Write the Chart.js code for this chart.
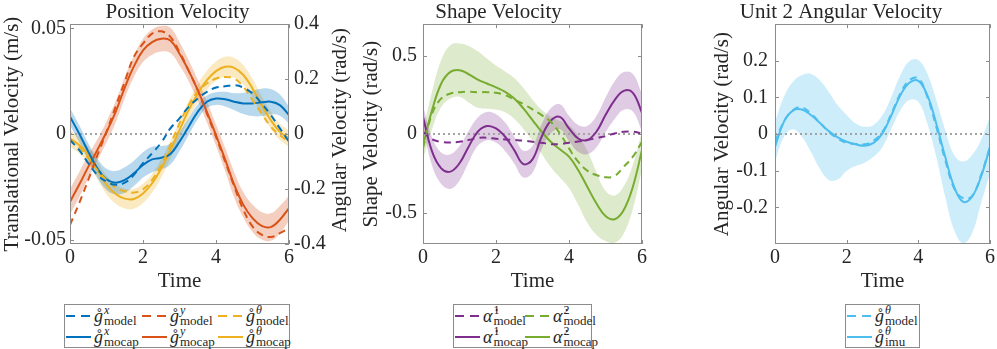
<!DOCTYPE html>
<html>
<head>
<meta charset="utf-8">
<script src="https://cdn.jsdelivr.net/npm/chart.js@4.4.1/dist/chart.umd.min.js"></script>
<style>
  body { margin: 0; background: #fff; width: 997px; height: 349px; position: relative; overflow: hidden;
         font-family: "Liberation Serif", "DejaVu Serif", serif; color: #262626; }
  canvas { position: absolute; top: 0; }
  .legend { position: absolute; top: 304px; height: 44px; box-sizing: border-box; border: 1px solid #8c8c8c;
            background: #fff; display: grid; align-content: center; }
  .item { display: flex; align-items: center; height: 21px; white-space: nowrap; }
  .sample { width: 25px; height: 2px; margin: 0 3px 0 1px; flex: none; }
  .base { font-style: italic; font-size: 18px; line-height: 1; }
  .scr { display: inline-flex; flex-direction: column; line-height: 0.85; margin-left: 1px; }
  .sup { font-style: italic; font-size: 12px; }
  .sup.num { font-style: normal; }
  .sub { font-size: 13px; }
</style>
</head>
<body>
<canvas id="posChart" width="355" height="296" style="left:0px"></canvas>
<canvas id="shapeChart" width="300" height="296" style="left:355px"></canvas>
<canvas id="unitChart" width="307" height="296" style="left:690px"></canvas>
<div id="posLegend" class="legend" style="left:64px;width:226px;grid-template-columns:76px 76px 72px"></div>
<div id="shapeLegend" class="legend" style="left:453px;width:139px;grid-template-columns:70px 67px"></div>
<div id="unitLegend" class="legend" style="left:845px;width:75px;grid-template-columns:73px"></div>
<script>
// time samples shared by every series
const TIME = [0, 0.25, 0.5, 0.75, 1, 1.25, 1.5, 1.75, 2, 2.25, 2.5, 2.75, 3, 3.25, 3.5, 3.75, 4, 4.25, 4.5, 4.75, 5, 5.25, 5.5, 5.75, 6];
const X_TICKS = [0, 2, 4, 6];

// Position velocity: x, y in m/s (left axis), theta in rad/s (right axis)
const POS_X_MODEL = [-0.0028, -0.0075, -0.0138, -0.0193, -0.0225, -0.0240, -0.0230, -0.0193, -0.0138, -0.0091, -0.0040, 0.0027, 0.0074, 0.0129, 0.0168, 0.0200, 0.0220, 0.0226, 0.0231, 0.0220, 0.0192, 0.0145, 0.0090, 0.0027, -0.0036];
const POS_X_MOCAP = [0.0082, 0.0003, -0.0083, -0.0162, -0.0214, -0.0230, -0.0217, -0.0186, -0.0146, -0.0120, -0.0112, -0.0094, -0.0036, 0.0035, 0.0105, 0.0153, 0.0168, 0.0165, 0.0153, 0.0145, 0.0145, 0.0150, 0.0153, 0.0137, 0.0090];
const POS_X_SPREAD = [0.004, 0.004, 0.004, 0.0045, 0.005, 0.0055, 0.006, 0.006, 0.006, 0.006, 0.0055, 0.005, 0.0045, 0.004, 0.0035, 0.003, 0.003, 0.0035, 0.004, 0.005, 0.006, 0.0065, 0.006, 0.005, 0.004];

const POS_Y_MODEL = [-0.043, -0.0327, -0.0217, -0.010, 0.001, 0.013, 0.0247, 0.0365, 0.0428, 0.0475, 0.0486, 0.046, 0.0388, 0.030, 0.0208, 0.0097, -0.0013, -0.013, -0.0248, -0.0358, -0.0437, -0.0476, -0.0487, -0.0469, -0.0445];
const POS_Y_MOCAP = [-0.032, -0.024, -0.0155, -0.0075, 0.001, 0.0105, 0.022, 0.032, 0.0396, 0.0435, 0.0451, 0.0443, 0.038, 0.030, 0.0208, 0.0105, -0.0005, -0.012, -0.024, -0.0335, -0.0398, -0.0434, -0.044, -0.0405, -0.035];
const POS_Y_SPREAD = [0.006, 0.006, 0.0055, 0.005, 0.005, 0.005, 0.005, 0.005, 0.0055, 0.006, 0.006, 0.006, 0.0055, 0.005, 0.005, 0.005, 0.005, 0.0055, 0.006, 0.006, 0.0065, 0.0065, 0.0065, 0.0065, 0.006];

const POS_TH_MODEL = [-0.016, -0.046, -0.088, -0.131, -0.167, -0.194, -0.208, -0.213, -0.201, -0.167, -0.113, -0.040, 0.039, 0.105, 0.154, 0.184, 0.202, 0.208, 0.202, 0.172, 0.124, 0.075, 0.027, -0.004, -0.028];
const POS_TH_MOCAP = [-0.016, -0.040, -0.076, -0.131, -0.185, -0.218, -0.235, -0.236, -0.216, -0.179, -0.125, -0.058, 0.015, 0.087, 0.148, 0.196, 0.229, 0.245, 0.241, 0.215, 0.166, 0.105, 0.051, 0.008, -0.016];
const POS_TH_SPREAD = [0.03, 0.03, 0.03, 0.032, 0.034, 0.035, 0.036, 0.036, 0.035, 0.034, 0.033, 0.032, 0.032, 0.032, 0.033, 0.034, 0.035, 0.036, 0.036, 0.035, 0.034, 0.033, 0.032, 0.03, 0.03];

const POS_LEFT_TICKS = [-0.05, 0, 0.05];
const POS_RIGHT_TICKS = [-0.4, -0.2, 0, 0.2, 0.4];

// Shape velocity (rad/s)
const SHAPE_A1_MODEL = [0.015, -0.034, -0.049, -0.053, -0.049, -0.038, -0.025, -0.023, -0.030, -0.034, -0.038, -0.042, -0.049, -0.055, -0.064, -0.064, -0.055, -0.047, -0.038, -0.025, -0.013, 0.004, 0.015, 0.015, 0.004];
const SHAPE_A1_MOCAP = [0.11, -0.112, -0.218, -0.239, -0.186, -0.08, 0.015, 0.051, 0.036, -0.017, -0.102, -0.191, -0.161, -0.017, 0.085, 0.11, 0.036, -0.028, -0.038, 0.015, 0.121, 0.216, 0.275, 0.263, 0.136];
const SHAPE_A1_SPREAD = [0.07, 0.09, 0.1, 0.11, 0.11, 0.1, 0.09, 0.09, 0.09, 0.09, 0.085, 0.085, 0.085, 0.08, 0.08, 0.08, 0.08, 0.085, 0.09, 0.1, 0.11, 0.12, 0.12, 0.12, 0.12];

const SHAPE_A2_MODEL = [-0.09, 0.131, 0.227, 0.258, 0.267, 0.269, 0.267, 0.267, 0.263, 0.248, 0.22, 0.191, 0.157, 0.121, 0.078, 0.004, -0.091, -0.176, -0.233, -0.261, -0.275, -0.267, -0.208, -0.144, -0.049];
const SHAPE_A2_MOCAP = [-0.07, 0.153, 0.322, 0.396, 0.407, 0.381, 0.347, 0.322, 0.297, 0.269, 0.227, 0.163, 0.089, 0.015, -0.049, -0.097, -0.144, -0.229, -0.335, -0.441, -0.521, -0.542, -0.483, -0.335, -0.102];
const SHAPE_A2_SPREAD = [0.09, 0.12, 0.15, 0.17, 0.17, 0.18, 0.18, 0.16, 0.14, 0.13, 0.13, 0.13, 0.13, 0.14, 0.16, 0.18, 0.2, 0.22, 0.23, 0.2, 0.16, 0.15, 0.15, 0.14, 0.12];

const SHAPE_TICKS = [-0.5, 0, 0.5];

// Unit 2 angular velocity (rad/s)
const UNIT_MODEL = [-0.021, 0.034, 0.065, 0.073, 0.056, 0.031, 0.006, -0.012, -0.024, -0.027, -0.028, -0.018, 0.006, 0.056, 0.111, 0.147, 0.152, 0.102, 0.020, -0.071, -0.148, -0.175, -0.169, -0.112, -0.035];
const UNIT_IMU = [-0.035, 0.034, 0.064, 0.067, 0.052, 0.031, 0.008, -0.009, -0.021, -0.028, -0.032, -0.024, 0.002, 0.052, 0.106, 0.140, 0.145, 0.106, 0.029, -0.062, -0.144, -0.185, -0.171, -0.116, -0.035];
const UNIT_UPPER = [0.034, 0.102, 0.143, 0.161, 0.164, 0.147, 0.115, 0.079, 0.052, 0.029, 0.020, 0.025, 0.052, 0.102, 0.161, 0.199, 0.202, 0.165, 0.093, 0.011, -0.057, -0.075, -0.057, -0.016, 0.047];
const UNIT_LOWER = [-0.075, -0.007, 0.013, -0.007, -0.048, -0.094, -0.125, -0.124, -0.100, -0.087, -0.078, -0.062, -0.035, 0.015, 0.065, 0.093, 0.088, 0.029, -0.062, -0.171, -0.262, -0.298, -0.271, -0.189, -0.107];

const UNIT_TICKS = [-0.2, -0.1, 0, 0.1, 0.2];

// legend text
const POS_COMPONENTS = ['x', 'y', 'θ'];
const SHAPE_COMPONENTS = ['1', '2'];
const MODEL_SOURCES = ['model', 'mocap'];
const UNIT_SOURCES = ['model', 'imu'];

// matlab default colours
const BLUE = '#0072BD', RED = '#D95319', YELLOW = '#EDB120';
const PURPLE = '#7E2F8E', GREEN = '#77AC30', CYAN = '#4DBEEE';
const TEXT = '#262626';
const FONT = '"Liberation Serif", "DejaVu Serif", serif';

Chart.defaults.font.family = FONT;
Chart.defaults.color = TEXT;

function xy(arr) {
    return TIME.map((t, i) => ({ x: t, y: arr[i] }));
}

function rgba(hex, a) {
    const n = parseInt(hex.slice(1), 16);
    return `rgba(${n >> 16}, ${(n >> 8) & 255}, ${n & 255}, ${a})`;
}

function lineSet(arr, color, dashed, axis) {
    return {
        data: xy(arr), borderColor: color, borderWidth: 2,
        borderDash: dashed ? [7, 5] : [], pointRadius: 0, tension: 0.4,
        fill: false, yAxisID: axis || 'y', order: 0
    };
}

function bandSets(upper, lower, color, alpha, axis) {
    const common = { borderWidth: 0, borderColor: 'transparent', pointRadius: 0, tension: 0.4, yAxisID: axis || 'y', order: 10 };
    return [
        Object.assign({ data: xy(upper), fill: '+1', backgroundColor: rgba(color, alpha) }, common),
        Object.assign({ data: xy(lower), fill: false }, common)
    ];
}

function spreadBand(center, spread, color, alpha, axis) {
    return bandSets(center.map((v, i) => v + spread[i]), center.map((v, i) => v - spread[i]), color, alpha, axis);
}

function zeroLine() {
    return {
        data: [{ x: 0, y: 0 }, { x: 6, y: 0 }], borderColor: '#a3a3a3', borderWidth: 2,
        borderDash: [2, 3], pointRadius: 0, fill: false, order: 5
    };
}

function yScale(position, min, max, ticks, width, pad, title, titlePad) {
    return {
        type: 'linear', position: position, min: min, max: max,
        afterBuildTicks: s => { s.ticks = ticks.map(v => ({ value: v })); },
        afterFit: s => { s.width = width; },
        grid: { display: false, drawTicks: false },
        border: { display: false },
        ticks: { padding: pad, autoSkip: false, color: TEXT, font: { size: 20 }, callback: v => String(v) },
        title: { display: !!title, text: title, color: TEXT, font: { size: 21 }, padding: { top: titlePad, bottom: 0 } }
    };
}

function xScale() {
    return {
        type: 'linear', min: 0, max: 6,
        afterBuildTicks: s => { s.ticks = X_TICKS.map(v => ({ value: v })); },
        afterFit: s => { s.height = 52; },
        grid: { display: false, drawTicks: false },
        border: { display: false },
        ticks: { padding: 2, autoSkip: false, maxRotation: 0, color: TEXT, font: { size: 20 } },
        title: { display: true, text: 'Time', color: TEXT, font: { size: 21 }, padding: { top: 0, bottom: 2 } }
    };
}

// box with inward ticks, like matlab axes
const boxPlugin = {
    id: 'matlabBox',
    afterDraw(chart) {
        const { ctx, chartArea: a, scales } = chart;
        ctx.save();
        ctx.strokeStyle = '#8c8c8c';
        ctx.lineWidth = 1;
        ctx.strokeRect(Math.round(a.left) + 0.5, Math.round(a.top) + 0.5, Math.round(a.right - a.left) - 1, Math.round(a.bottom - a.top) - 1);
        ctx.beginPath();
        scales.x.ticks.forEach(t => {
            const px = Math.round(scales.x.getPixelForValue(t.value)) + 0.5;
            ctx.moveTo(px, a.bottom); ctx.lineTo(px, a.bottom - 4);
            ctx.moveTo(px, a.top); ctx.lineTo(px, a.top + 4);
        });
        scales.y.ticks.forEach(t => {
            const py = Math.round(scales.y.getPixelForValue(t.value)) + 0.5;
            ctx.moveTo(a.left, py); ctx.lineTo(a.left + 4, py);
            if (!scales.y1) { ctx.moveTo(a.right, py); ctx.lineTo(a.right - 4, py); }
        });
        if (scales.y1) {
            scales.y1.ticks.forEach(t => {
                const py = Math.round(scales.y1.getPixelForValue(t.value)) + 0.5;
                ctx.moveTo(a.right, py); ctx.lineTo(a.right - 4, py);
            });
        }
        ctx.stroke();
        ctx.restore();
    }
};

// right axis label of the first panel reads bottom to top
const rightTitlePlugin = {
    id: 'rightTitle',
    afterDraw(chart) {
        const { ctx, chartArea: a } = chart;
        ctx.save();
        ctx.translate(340, (a.top + a.bottom) / 2 - 4);
        ctx.rotate(-Math.PI / 2);
        ctx.font = '21px ' + FONT;
        ctx.fillStyle = TEXT;
        ctx.textAlign = 'center';
        ctx.textBaseline = 'middle';
        ctx.fillText('Angular Velocity (rad/s)', 0, 0);
        ctx.restore();
    }
};

function baseOptions(title, rightPad) {
    return {
        responsive: false, animation: false, devicePixelRatio: 1,
        layout: { padding: { left: 0, right: rightPad, top: 0, bottom: 0 } },
        plugins: {
            legend: { display: false }, tooltip: { enabled: false },
            title: { display: true, text: title, color: TEXT, font: { size: 21, weight: 'normal', lineHeight: 1.15 }, padding: { top: 0, bottom: 0 } }
        }
    };
}

// Position velocity
const posOptions = baseOptions('Position Velocity', 0);
posOptions.scales = {
    x: xScale(),
    y: yScale('left', -0.052, 0.052, POS_LEFT_TICKS, 70, 4, 'Translational Velocity (m/s)', 0),
    y1: yScale('right', -0.4, 0.4, POS_RIGHT_TICKS, 66, 5, '', 0)
};
new Chart(document.getElementById('posChart'), {
    type: 'line',
    data: {
        datasets: [
            lineSet(POS_X_MODEL, BLUE, true), lineSet(POS_Y_MODEL, RED, true), lineSet(POS_TH_MODEL, YELLOW, true, 'y1'),
            lineSet(POS_X_MOCAP, BLUE, false), lineSet(POS_Y_MOCAP, RED, false), lineSet(POS_TH_MOCAP, YELLOW, false, 'y1'),
            zeroLine(),
            ...spreadBand(POS_X_MOCAP, POS_X_SPREAD, BLUE, 0.28),
            ...spreadBand(POS_Y_MOCAP, POS_Y_SPREAD, RED, 0.28),
            ...spreadBand(POS_TH_MOCAP, POS_TH_SPREAD, YELLOW, 0.28, 'y1')
        ]
    },
    options: posOptions,
    plugins: [boxPlugin, rightTitlePlugin]
});

// Shape velocity
const shapeOptions = baseOptions('Shape Velocity', 13);
shapeOptions.scales = {
    x: xScale(),
    y: yScale('left', -0.7, 0.7, SHAPE_TICKS, 68, 6, 'Shape Velocity (rad/s)', 3.4)
};
new Chart(document.getElementById('shapeChart'), {
    type: 'line',
    data: {
        datasets: [
            lineSet(SHAPE_A1_MODEL, PURPLE, true), lineSet(SHAPE_A2_MODEL, GREEN, true),
            lineSet(SHAPE_A1_MOCAP, PURPLE, false), lineSet(SHAPE_A2_MOCAP, GREEN, false),
            zeroLine(),
            ...spreadBand(SHAPE_A1_MOCAP, SHAPE_A1_SPREAD, PURPLE, 0.25),
            ...spreadBand(SHAPE_A2_MOCAP, SHAPE_A2_SPREAD, GREEN, 0.25)
        ]
    },
    options: shapeOptions,
    plugins: [boxPlugin]
});

// Unit 2 angular velocity
const unitOptions = baseOptions('Unit 2 Angular Velocity', 5);
unitOptions.scales = {
    x: xScale(),
    y: yScale('left', -0.3, 0.3, UNIT_TICKS, 85, 7, 'Angular Velocity (rad/s)', 19.4)
};
new Chart(document.getElementById('unitChart'), {
    type: 'line',
    data: {
        datasets: [
            lineSet(UNIT_MODEL, CYAN, true), lineSet(UNIT_IMU, CYAN, false),
            zeroLine(),
            ...bandSets(UNIT_UPPER, UNIT_LOWER, CYAN, 0.28)
        ]
    },
    options: unitOptions,
    plugins: [boxPlugin]
});

// legends with stacked super/subscripts
function buildLegend(id, base, comps, sources, colors) {
    const el = document.getElementById(id);
    el.innerHTML = sources.map((src, r) => comps.map((c, i) => {
        const col = colors[i];
        const bg = r === 0
            ? `repeating-linear-gradient(90deg, ${col} 0 9px, transparent 9px 15px)`
            : col;
        const supClass = /^\d+$/.test(c) ? 'sup num' : 'sup';
        return `<div class="item"><span class="sample" style="background:${bg}"></span>` +
            `<span class="base">${base}</span>` +
            `<span class="scr"><span class="${supClass}">${c}</span><span class="sub">${src}</span></span></div>`;
    }).join('')).join('');
}

buildLegend('posLegend', 'g\u030A', POS_COMPONENTS, MODEL_SOURCES, [BLUE, RED, YELLOW]);
buildLegend('shapeLegend', '\u03B1\u0307', SHAPE_COMPONENTS, MODEL_SOURCES, [PURPLE, GREEN]);
buildLegend('unitLegend', 'g\u030A', ['θ'], UNIT_SOURCES, [CYAN]);
</script>
</body>
</html>
